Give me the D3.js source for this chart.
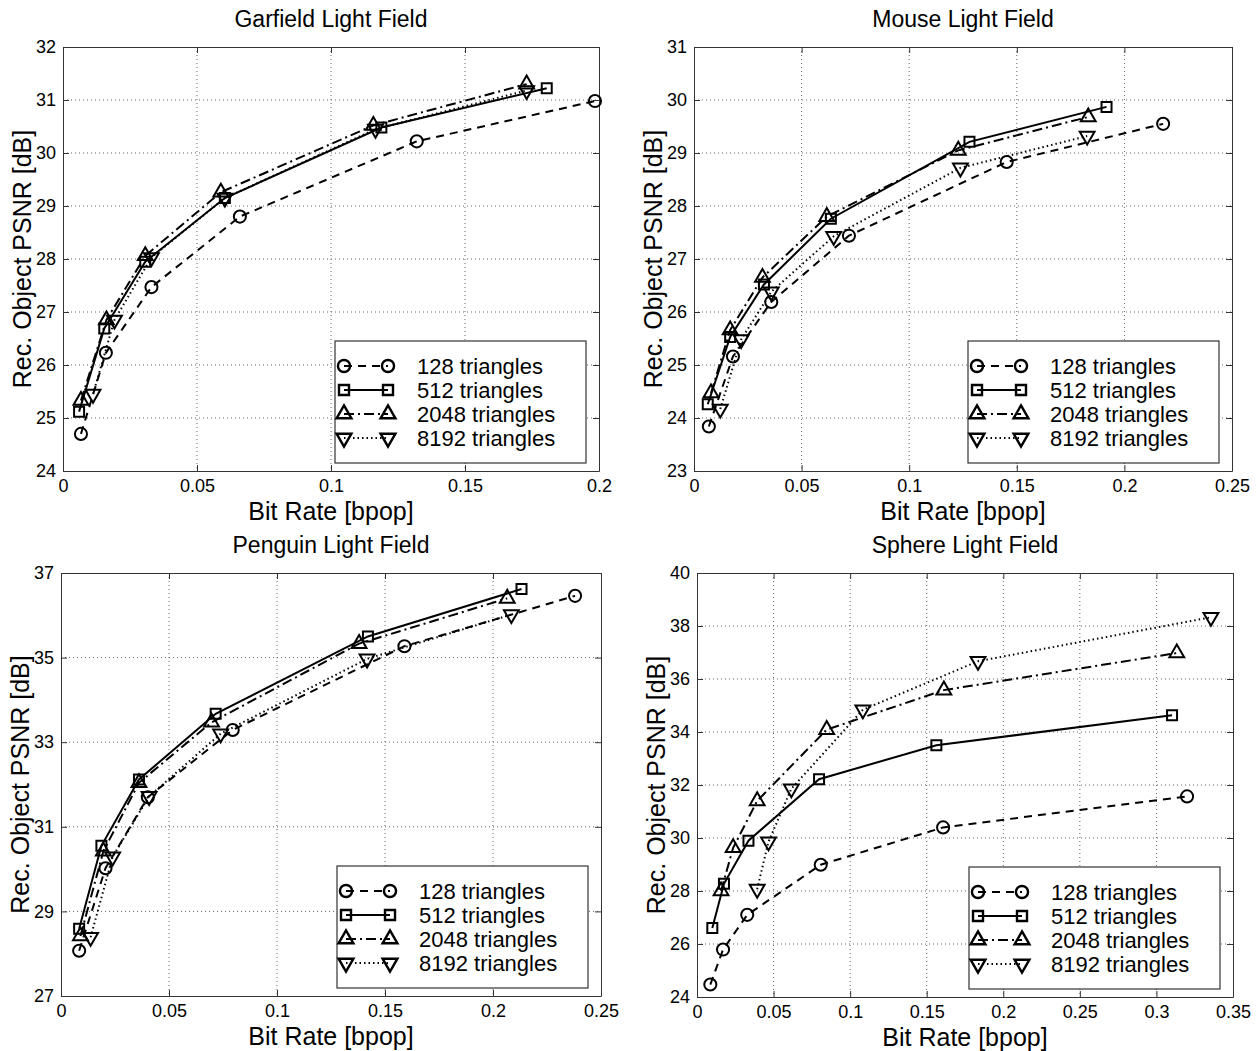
<!DOCTYPE html>
<html>
<head>
<meta charset="utf-8">
<script src="https://cdn.jsdelivr.net/npm/d3@7"></script>
<style>
  body { margin: 0; background: #fff; }
  svg { font-family: "Liberation Sans", Arial, sans-serif; }
</style>
</head>
<body>
<svg id="chart" width="1258" height="1051"></svg>
<script>
// series labels
const seriesNames = ["128 triangles", "512 triangles", "2048 triangles", "8192 triangles"];

// Garfield: [bit rate, psnr]
const garfield128 = [[0.0067, 24.7], [0.016, 26.23], [0.033, 27.47], [0.066, 28.8], [0.132, 30.22], [0.1985, 30.98]];
const garfield512 = [[0.006, 25.12], [0.0154, 26.69], [0.0307, 27.95], [0.0604, 29.15], [0.1188, 30.48], [0.1805, 31.22]];
const garfield2048 = [[0.0067, 25.33], [0.0162, 26.85], [0.0307, 28.06], [0.0589, 29.26], [0.1158, 30.52], [0.173, 31.3]];
const garfield8192 = [[0.0112, 25.45], [0.0192, 26.85], [0.033, 28.03], [0.0604, 29.15], [0.1166, 30.45], [0.173, 31.18]];

// Mouse
const mouse128 = [[0.0069, 23.84], [0.0181, 25.16], [0.0359, 26.19], [0.072, 27.44], [0.1453, 28.83], [0.218, 29.55]];
const mouse512 = [[0.0064, 24.26], [0.0168, 25.53], [0.0325, 26.52], [0.0636, 27.76], [0.128, 29.21], [0.1917, 29.87]];
const mouse2048 = [[0.0079, 24.47], [0.0168, 25.66], [0.0318, 26.65], [0.0617, 27.8], [0.1228, 29.05], [0.1832, 29.68]];
const mouse8192 = [[0.0122, 24.17], [0.0219, 25.48], [0.0359, 26.38], [0.0649, 27.43], [0.1238, 28.72], [0.1827, 29.32]];

// Penguin
const penguin128 = [[0.0084, 28.07], [0.0206, 30.02], [0.0402, 31.7], [0.0795, 33.29], [0.159, 35.27], [0.238, 36.46]];
const penguin512 = [[0.0084, 28.59], [0.0187, 30.55], [0.0361, 32.12], [0.0716, 33.67], [0.1421, 35.5], [0.2132, 36.62]];
const penguin2048 = [[0.009, 28.42], [0.0196, 30.42], [0.0361, 32.04], [0.0697, 33.47], [0.138, 35.33], [0.2066, 36.4]];
const penguin8192 = [[0.0137, 28.39], [0.0239, 30.29], [0.0408, 31.72], [0.0739, 33.2], [0.1417, 34.97], [0.2085, 36.02]];

// Sphere
const sphere128 = [[0.0087, 24.47], [0.017, 25.79], [0.0328, 27.1], [0.0808, 28.99], [0.1607, 30.4], [0.32, 31.57]];
const sphere512 = [[0.01, 26.6], [0.0176, 28.27], [0.0336, 29.9], [0.0797, 32.22], [0.1563, 33.5], [0.3102, 34.63]];
const sphere2048 = [[0.0157, 28], [0.0236, 29.63], [0.0393, 31.4], [0.0847, 34.09], [0.1612, 35.58], [0.3133, 36.98]];
const sphere8192 = [[0.0393, 28.07], [0.0467, 29.86], [0.0616, 31.86], [0.1083, 34.84], [0.1835, 36.67], [0.3356, 38.33]];

// axis ticks
const garfieldXTicks = [0, 0.05, 0.1, 0.15, 0.2];
const garfieldYTicks = [24, 25, 26, 27, 28, 29, 30, 31, 32];
const mouseXTicks = [0, 0.05, 0.1, 0.15, 0.2, 0.25];
const mouseYTicks = [23, 24, 25, 26, 27, 28, 29, 30, 31];
const penguinXTicks = [0, 0.05, 0.1, 0.15, 0.2, 0.25];
const penguinYTicks = [27, 29, 31, 33, 35, 37];
const sphereXTicks = [0, 0.05, 0.1, 0.15, 0.2, 0.25, 0.3, 0.35];
const sphereYTicks = [24, 26, 28, 30, 32, 34, 36, 38, 40];

const panels = [
  { title: "Garfield Light Field", box: { l: 63, t: 47, r: 599, b: 471 },
    xTicks: garfieldXTicks, yTicks: garfieldYTicks,
    series: [garfield128, garfield512, garfield2048, garfield8192] },
  { title: "Mouse Light Field", box: { l: 694, t: 47, r: 1232, b: 471 },
    xTicks: mouseXTicks, yTicks: mouseYTicks,
    series: [mouse128, mouse512, mouse2048, mouse8192] },
  { title: "Penguin Light Field", box: { l: 61, t: 573, r: 601, b: 996 },
    xTicks: penguinXTicks, yTicks: penguinYTicks,
    series: [penguin128, penguin512, penguin2048, penguin8192] },
  { title: "Sphere Light Field", box: { l: 697, t: 573, r: 1233, b: 997 },
    xTicks: sphereXTicks, yTicks: sphereYTicks,
    series: [sphere128, sphere512, sphere2048, sphere8192] }
];

// line style + marker for each series
const styles = [
  { dash: "8,6", symbol: d3.symbolCircle, size: 115, rotate: 0 },
  { dash: null, symbol: d3.symbolSquare, size: 100, rotate: 0 },
  { dash: "10,4,2,4", symbol: d3.symbolTriangle, size: 95, rotate: 0 },
  { dash: "1.5,3", symbol: d3.symbolTriangle, size: 95, rotate: 180 }
];

const fmt = (v) => String(+v.toFixed(2));
const svg = d3.select("#chart");

const renderPanel = (p) => {
  const { l, t, r, b } = p.box;
  const x = d3.scaleLinear().domain(d3.extent(p.xTicks)).range([l, r]);
  const y = d3.scaleLinear().domain(d3.extent(p.yTicks)).range([b, t]);
  const g = svg.append("g");

  // grid
  g.append("g")
    .selectAll("line")
    .data(p.xTicks.slice(1, -1))
    .join("line")
    .attr("x1", (d) => x(d)).attr("x2", (d) => x(d))
    .attr("y1", t).attr("y2", b)
    .attr("stroke", "#666").attr("stroke-width", 1)
    .attr("stroke-dasharray", "1,3");
  g.append("g")
    .selectAll("line")
    .data(p.yTicks.slice(1, -1))
    .join("line")
    .attr("y1", (d) => y(d)).attr("y2", (d) => y(d))
    .attr("x1", l).attr("x2", r)
    .attr("stroke", "#666").attr("stroke-width", 1)
    .attr("stroke-dasharray", "1,3");

  // axes, ticks inside on all four sides
  const tick = 6;
  g.append("g")
    .attr("transform", `translate(0,${b})`)
    .call(d3.axisBottom(x).tickValues(p.xTicks).tickSizeInner(-tick).tickSizeOuter(0).tickPadding(8).tickFormat(fmt));
  g.append("g")
    .attr("transform", `translate(0,${t})`)
    .call(d3.axisTop(x).tickValues(p.xTicks).tickSizeInner(-tick).tickSizeOuter(0).tickFormat(""));
  g.append("g")
    .attr("transform", `translate(${l},0)`)
    .call(d3.axisLeft(y).tickValues(p.yTicks).tickSizeInner(-tick).tickSizeOuter(0).tickPadding(7).tickFormat(fmt));
  g.append("g")
    .attr("transform", `translate(${r},0)`)
    .call(d3.axisRight(y).tickValues(p.yTicks).tickSizeInner(-tick).tickSizeOuter(0).tickFormat(""));
  g.selectAll(".domain").attr("stroke", "#333");
  g.selectAll(".tick line").attr("stroke", "#333");
  g.selectAll(".tick text")
    .attr("font-family", "Liberation Sans, Arial, sans-serif")
    .attr("font-size", 18).attr("fill", "#000");

  // titles
  g.append("text")
    .text(p.title)
    .attr("x", (l + r) / 2).attr("y", t - 20)
    .attr("text-anchor", "middle").attr("font-size", 23);
  g.append("text")
    .text("Bit Rate [bpop]")
    .attr("x", (l + r) / 2).attr("y", b + 49)
    .attr("text-anchor", "middle").attr("font-size", 25);
  g.append("text")
    .text("Rec. Object PSNR [dB]")
    .attr("transform", `translate(${l - 41},${(t + b) / 2}) rotate(-90)`)
    .attr("dy", "0.35em")
    .attr("text-anchor", "middle").attr("font-size", 25);

  // lines and markers
  const line = d3.line().x((d) => x(d[0])).y((d) => y(d[1]));
  p.series.forEach((data, i) => {
    const s = styles[i];
    g.append("path")
      .attr("d", line(data))
      .attr("fill", "none").attr("stroke", "#000").attr("stroke-width", 2)
      .attr("stroke-dasharray", s.dash);
    g.append("g")
      .selectAll("path")
      .data(data)
      .join("path")
      .attr("d", d3.symbol(s.symbol, s.size))
      .attr("transform", (d) => `translate(${x(d[0])},${y(d[1])}) rotate(${s.rotate})`)
      .attr("fill", "none").attr("stroke", "#000").attr("stroke-width", 2);
  });

  // legend, lower right
  const lw = 251, lh = 122;
  const lx = r - 13 - lw, ly = b - 8 - lh;
  const legend = g.append("g").attr("transform", `translate(${lx},${ly})`);
  legend.append("rect")
    .attr("width", lw).attr("height", lh)
    .attr("fill", "#fff").attr("stroke", "#333").attr("stroke-width", 1.2);
  const row = legend.selectAll(".row")
    .data(seriesNames)
    .join("g")
    .attr("class", "row")
    .attr("transform", (d, i) => `translate(0,${25 + i * 24})`);
  row.append("line")
    .attr("x1", 9).attr("x2", 53)
    .attr("stroke", "#000").attr("stroke-width", 2)
    .attr("stroke-dasharray", (d, i) => styles[i].dash);
  [9, 53].forEach((mx) => {
    row.append("path")
      .attr("d", (d, i) => d3.symbol(styles[i].symbol, styles[i].size)())
      .attr("transform", (d, i) => `translate(${mx},0) rotate(${styles[i].rotate})`)
      .attr("fill", "none").attr("stroke", "#000").attr("stroke-width", 2.4);
  });
  row.append("text")
    .text((d) => d)
    .attr("x", 82).attr("dy", "0.36em")
    .attr("font-size", 22);
};

panels.forEach(renderPanel);
</script>
</body>
</html>
